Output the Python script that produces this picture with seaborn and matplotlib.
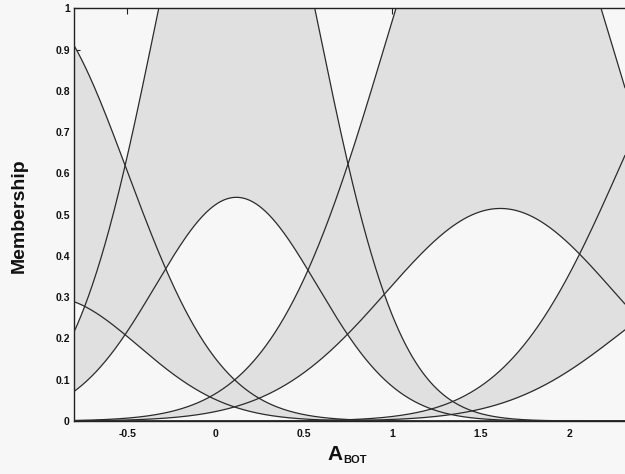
import numpy as np
import pandas as pd
import seaborn as sns
import matplotlib
matplotlib.use("Agg")
import matplotlib.pyplot as plt

# Gaussian membership functions (centre, spread, peak height)
# upper MFs (footprint top) and lower MFs (footprint bottom), one per fuzzy set
upper_centers = [-1.03, 0.12, 1.60, 2.93]
upper_sigmas = [0.53, 0.461, 0.640, 0.641]
upper_heights = [1.00, 1.58, 1.507, 1.02]

lower_centers = [-0.936, 0.118, 1.61, 2.93]
lower_sigmas = [0.50, 0.456, 0.645, 0.641]
lower_heights = [0.30, 0.542, 0.515, 0.35]

x_ticks = [-0.5, 0, 0.5, 1, 1.5, 2]
x_tick_labels = ["-0.5", "0", "0.5", "1", "1.5", "2"]
y_ticks = [0, 0.1, 0.2, 0.3, 0.4, 0.5, 0.6, 0.7, 0.8, 0.9, 1]
y_tick_labels = ["0", "0.1", "0.2", "0.3", "0.4", "0.5", "0.6", "0.7", "0.8", "0.9", "1"]
x_limits = (-0.80, 2.315)


def gauss_mf(x, c, s, h):
    """Scaled gaussian membership function."""
    return h * np.exp(-0.5 * ((x - c) / s) ** 2)


# Build long-form table of all curves
xs = np.linspace(x_limits[0], x_limits[1], 800)
rows = []
for i in range(len(upper_centers)):
    up = gauss_mf(xs, upper_centers[i], upper_sigmas[i], upper_heights[i])
    lo = gauss_mf(xs, lower_centers[i], lower_sigmas[i], lower_heights[i])
    rows.append(pd.DataFrame({"x": xs, "mu": up, "curve": f"upper{i}", "set": i}))
    rows.append(pd.DataFrame({"x": xs, "mu": lo, "curve": f"lower{i}", "set": i}))
df = pd.concat(rows, ignore_index=True)

sns.set_theme(style="white")
plt.rcParams["font.family"] = ["Liberation Sans", "DejaVu Sans"]

bg = "#f7f7f7"
fig = plt.figure(figsize=(6.25, 4.74), dpi=100, facecolor=bg)
ax = fig.add_axes([74 / 625, 1 - 421 / 474, 1 - 74 / 625, (421 - 8.3) / 474])
ax.set_facecolor(bg)

# Footprint of uncertainty for each set
for i in range(len(upper_centers)):
    up = df[df["curve"] == f"upper{i}"]["mu"].to_numpy()
    lo = df[df["curve"] == f"lower{i}"]["mu"].to_numpy()
    ax.fill_between(xs, lo, up, color="#e0e0e0", lw=0, zorder=1)

sns.lineplot(data=df, x="x", y="mu", units="curve", estimator=None,
             color="#2b2b2b", lw=0.9, ax=ax, zorder=3, legend=False)

ax.set_xlim(*x_limits)
ax.set_ylim(0, 1)
ax.set_xticks(x_ticks)
ax.set_xticklabels(x_tick_labels)
ax.set_yticks(y_ticks)
ax.set_yticklabels(y_tick_labels)
ax.tick_params(axis="both", direction="in", length=4, width=0.8, color="#222222",
               labelsize=7.5, pad=3)
ax.tick_params(axis="x", top=True, pad=6)
ax.tick_params(axis="y", left=True)
for lab in ax.get_xticklabels() + ax.get_yticklabels():
    lab.set_fontweight("bold")
    lab.set_color("#111111")

for side in ["left", "bottom", "top"]:
    ax.spines[side].set_color("#222222")
    ax.spines[side].set_linewidth(1.0)
ax.spines["right"].set_visible(False)

ax.set_xlabel("")
ax.set_ylabel("")
fig.text(0.031, 0.546, "Membership", rotation=90, ha="center", va="center",
         fontsize=14, fontweight="bold", color="#111111")
fig.text(327 / 625, (474 - 460) / 474, "A", ha="left", va="baseline",
         fontsize=15, fontweight="bold", color="#111111")
fig.text(343 / 625, (474 - 463) / 474, "BOT", ha="left", va="baseline",
         fontsize=8, fontweight="bold", color="#111111")

fig.savefig("out.png", dpi=100, facecolor=bg)
